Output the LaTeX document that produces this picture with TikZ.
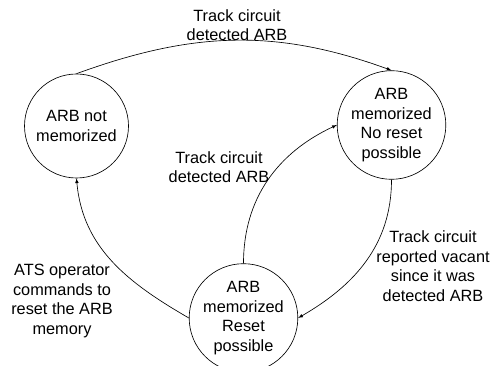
\documentclass[tikz,border=0pt]{standalone}
\usepackage{fontspec}
\setmainfont{Liberation Sans}
\usetikzlibrary{arrows}
\newcommand{\diagfont}{\fontsize{16.3}{19.6}\selectfont}
\tikzstyle{state}=[circle,draw,line width=0.65pt,minimum size=104pt,inner sep=0pt,align=center,font=\diagfont]
\tikzstyle{edge} = [draw,line width=0.65pt,-latex]
\tikzstyle{trigger} = [align=center,font=\diagfont]

\begin{document}
\begin{tikzpicture}[x=1pt,y=1pt]
    \useasboundingbox (0,0) rectangle (500,366);
    % First we draw the states
    \foreach \pos/\name/\text in {{(76.5,240)/nm/{ARB not\\memorized}},
        {(391.5,241)/nr/{ARB\\memorized\\No reset\\possible}},
        {(243.5,48)/rp/{ARB\\memorized\\Reset\\possible}}}
        \node[state] (\name) at \pos {\text};

    % Connect states with transitions
    \path[edge] (nm.north) to[out=20,in=160] (nr.north);
    \path[edge] (rp.north) to[out=90,in=205] (nr.west);
    \path[edge] (nr.south) to[out=-90,in=30] (rp.east);
    \path[edge] (rp.west) to[out=150,in=-85] (nm.south);

    % and the conditions of each transition
    \node[trigger] (t1) at (237,341) {Track circuit\\detected ARB};
    \node[trigger] (t2) at (219,199) {Track circuit\\detected ARB};
    \node[trigger] (t3) at (433,100) {Track circuit\\reported vacant\\since it was\\detected ARB};
    \node[trigger] (t4) at (62,65) {ATS operator\\commands to\\reset the ARB\\memory};
\end{tikzpicture}
\end{document}
